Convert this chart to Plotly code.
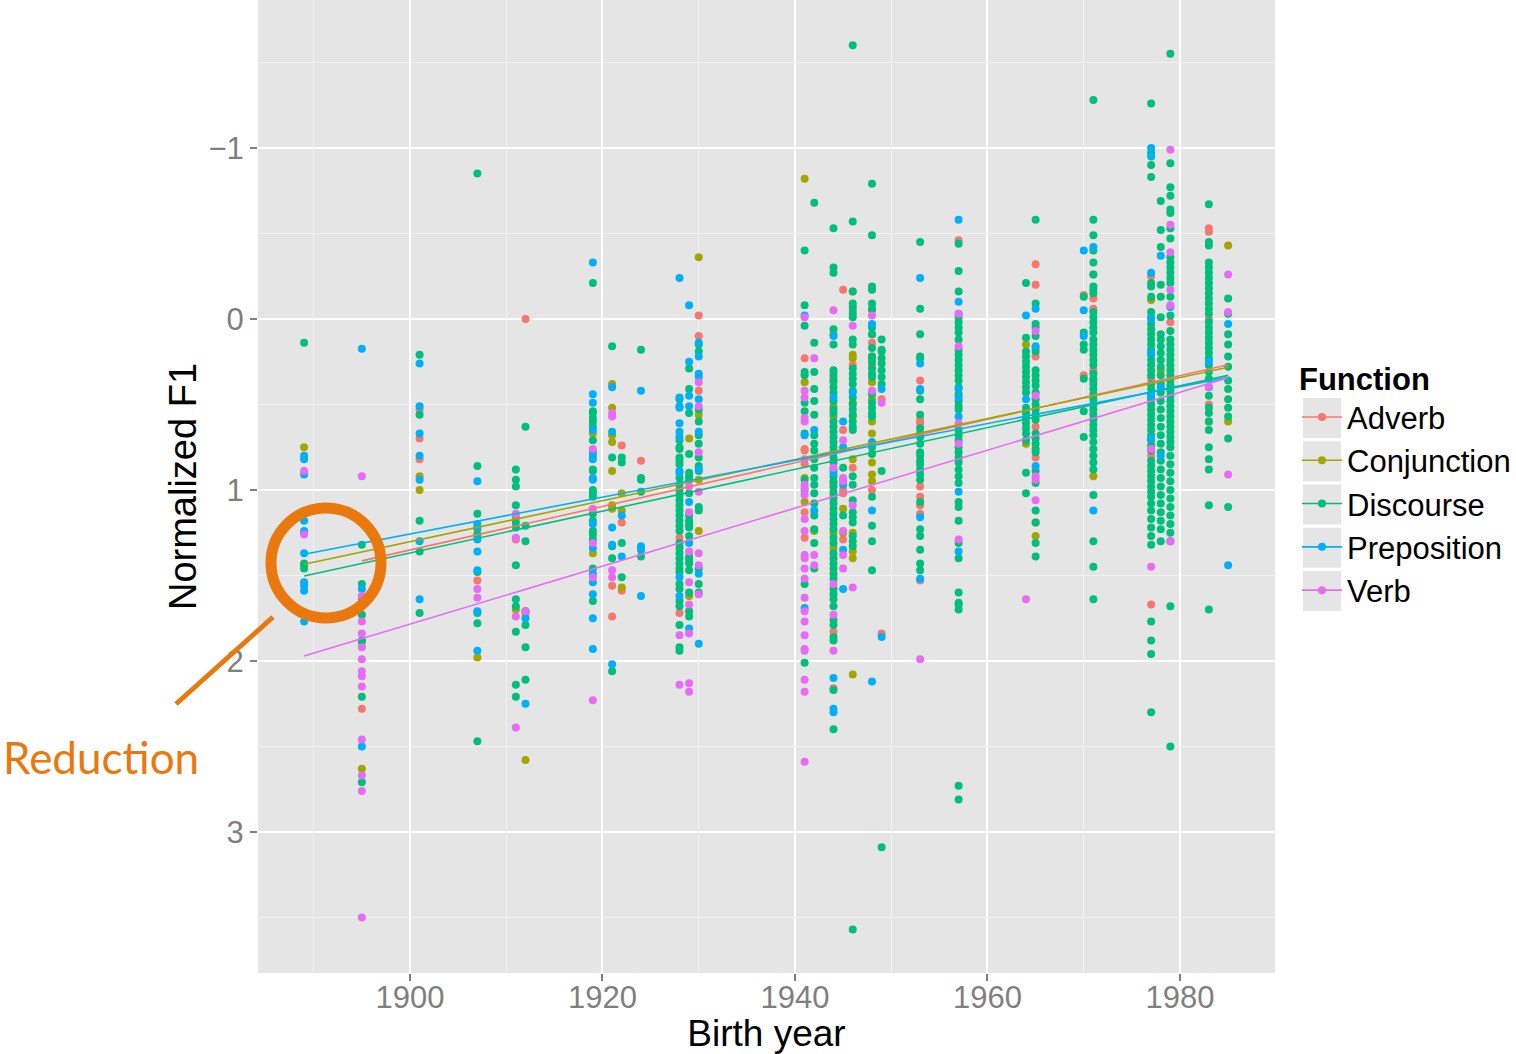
import plotly.graph_objects as go

# ---------------- data (birth year -> normalized F1 values) ----------------
functions = ["Adverb", "Conjunction", "Discourse", "Preposition", "Verb"]
colors = ["#F8766D", "#A3A500", "#00BF7D", "#00B0F6", "#E76BF3"]

adverb_pts = [
    (1895, [2.28]), (1901, [0.53, 0.70, 0.82]), (1907, [1.27, 1.53]), (1911, [1.29]),
    (1912, [0.00]), (1921, [1.56, 1.74]), (1922, [0.74, 1.19, 1.59]), (1924, [0.83]),
    (1928, [1.28, 1.72]), (1930, [-0.02, 0.10, 0.42]),
    (1941, [0.23, 0.76, 0.77, 0.85, 1.13, 1.28]), (1944, [0.96, 1.83, 2.16]),
    (1945, [-0.17, 0.65, 1.00, 1.02, 1.29]), (1946, [-0.16, 0.27, 0.87]),
    (1948, [0.14, 0.27, 1.00]), (1949, [0.47, 1.84]),
    (1953, [0.36, 0.59, 0.61, 0.98, 1.04, 1.09, 1.14, 1.53]), (1957, [-0.46]),
    (1965, [-0.32, -0.20, 0.17, 0.22, 0.63, 0.81, 1.19]), (1970, [-0.14, 0.33]),
    (1971, [-0.26, -0.12, -0.06, 0.30, 0.36]), (1977, [-0.25, 0.35, 0.80, 1.67]),
    (1979, [0.02]), (1983, [-0.53, -0.51, 0.00, 0.50]),
]

conjunction_pts = [
    (1889, [0.75, 1.44]), (1895, [2.63]), (1901, [0.92, 1.00]), (1907, [1.23, 1.98]),
    (1911, [1.16, 1.70]), (1912, [1.72, 2.58]), (1919, [0.67, 1.37]),
    (1921, [0.38, 0.52, 0.68, 0.72, 0.89, 1.09, 1.11]), (1922, [1.02, 1.12, 1.57]),
    (1929, [0.70, 1.62]), (1930, [-0.36, 0.56, 0.94, 1.24]),
    (1941, [-0.82, 0.37, 0.93, 1.07]), (1942, [1.24]),
    (1944, [0.09, 0.34, 0.37, 0.51, 0.57, 1.03, 1.25, 1.34]), (1945, [1.11, 1.25]),
    (1946, [-0.05, 0.21, 0.23, 0.49, 0.57, 0.82, 1.25, 1.36, 1.40, 2.08]),
    (1948, [-0.05, 0.09, 0.22, 0.23, 0.37, 0.47, 0.60, 0.67, 0.84, 0.91, 0.95]),
    (1964, [0.15, 0.73]), (1965, [1.27]), (1971, [0.92]), (1977, [-0.11]),
    (1978, [0.30]), (1983, [0.60]), (1985, [-0.43, 0.60]),
]

discourse_pts = [
    (1889, [0.14, 1.43, 1.46]),
    (1895, [1.32, 1.55, 1.73, 1.88, 1.89, 2.21, 2.71]),
    (1901, [0.21, 0.56, 1.18, 1.36, 1.72]),
    (1907, [-0.85, 0.86, 1.14, 1.26, 1.48, 1.72, 1.78, 2.47]),
    (1911, [0.88, 0.94, 0.98, 1.09, 1.19, 1.22, 1.44, 1.64, 1.68, 1.83, 2.14, 2.21]),
    (1912, [0.63, 1.21, 1.30, 1.71, 1.79, 1.92, 2.11]),
    (1919, [-0.21, 0.54, 0.55, 0.58, 0.60, 0.63, 0.71, 0.78, 0.88, 0.89, 1.00, 1.02,
            1.04, 1.14, 1.18, 1.24, 1.26, 1.29, 1.46, 1.65]),
    (1921, [0.16, 0.81, 1.33, 1.40, 2.06]),
    (1922, [0.81, 0.84, 1.31, 1.51]),
    (1924, [0.18, 0.93, 0.94, 1.01, 1.39]),
    (1928, [0.47, 0.71, 0.75, 0.76, 0.81, 0.83, 0.85, 0.93, 0.97, 1.00, 1.03, 1.06,
            1.09, 1.12, 1.15, 1.18, 1.21, 1.24, 1.31, 1.34, 1.37, 1.40, 1.43, 1.46,
            1.48, 1.55, 1.58, 1.65, 1.68, 1.79, 1.92, 1.94]),
    (1929, [0.29, 0.41, 0.55, 0.79, 0.90, 0.92, 0.94, 1.02, 1.15, 1.18, 1.20, 1.22,
            1.27, 1.39, 1.41, 1.43, 1.47, 1.60, 1.71, 1.74]),
    (1930, [0.15, 0.19, 0.53, 0.60, 0.68, 0.73, 0.81, 0.86, 0.89, 1.10, 1.12, 1.46,
            1.55, 1.60]),
    (1941, [-0.40, -0.08, 0.04, 0.31, 0.33, 0.49, 0.54, 0.67, 0.94, 1.55, 2.01]),
    (1942, [-0.68, 0.14, 0.31, 0.41, 0.48, 0.56, 0.68, 0.73, 0.77, 0.82, 0.87, 0.93,
            0.97, 1.02, 1.08, 1.15, 1.23, 1.31, 1.46]),
    (1944, [-0.53, -0.30, -0.27, 0.06, 0.15, 0.30, 0.32, 0.36, 0.40, 0.43, 0.48, 0.53,
            0.55, 0.60, 0.63, 0.66, 0.69, 0.72, 0.75, 0.78, 0.81, 0.84, 0.88, 0.92,
            0.95, 0.98, 1.01, 1.05, 1.08, 1.11, 1.14, 1.17, 1.20, 1.23, 1.28, 1.31,
            1.37, 1.40, 1.43, 1.46, 1.49, 1.52, 1.58, 1.61, 1.64, 1.68, 1.76, 1.79,
            1.86, 1.88, 2.17, 2.40]),
    (1945, [0.87, 1.15]),
    (1946, [-1.60, -0.57, -0.16, -0.09, -0.07, -0.03, -0.01, 0.12, 0.15, 0.29, 0.32,
            0.35, 0.38, 0.42, 0.46, 0.50, 0.53, 0.56, 0.60, 0.63, 0.65, 0.92, 0.97,
            1.06, 1.13, 1.16, 1.19, 1.27, 1.30, 1.33, 3.57]),
    (1948, [-0.79, -0.49, -0.19, -0.17, -0.09, -0.06, 0.05, 0.09, 0.17, 0.22, 0.25,
            0.29, 0.32, 0.34, 0.44, 0.49, 0.52, 0.55, 0.57, 0.75, 0.79, 1.04, 1.21,
            1.30, 1.47]),
    (1949, [0.12, 0.18, 0.19, 0.23, 0.26, 0.30, 0.34, 0.38, 0.89, 3.09]),
    (1953, [-0.45, -0.06, 0.09, 0.22, 0.23, 0.42, 0.47, 0.56, 0.64, 0.67, 0.69, 0.73,
            0.78, 0.80, 0.83, 0.85, 0.88, 0.91, 0.94, 1.07, 1.23, 1.27, 1.35, 1.43,
            1.47]),
    (1957, [-0.44, -0.28, -0.16, -0.01, 0.02, 0.05, 0.08, 0.12, 0.18, 0.21, 0.24,
            0.27, 0.30, 0.33, 0.36, 0.40, 0.44, 0.48, 0.51, 0.53, 0.65, 0.68, 0.71,
            0.75, 0.78, 0.81, 0.84, 0.88, 0.92, 0.96, 1.07, 1.10, 1.18, 1.31, 1.40,
            1.60, 1.66, 1.67, 1.70, 2.73, 2.81]),
    (1964, [-0.21, 0.11, 0.19, 0.22, 0.25, 0.28, 0.31, 0.34, 0.37, 0.40, 0.43, 0.52,
            0.55, 0.58, 0.61, 0.64, 0.67, 0.71, 0.90, 1.02]),
    (1965, [-0.58, -0.09, 0.03, 0.05, 0.10, 0.19, 0.30, 0.33, 0.36, 0.39, 0.43, 0.47,
            0.50, 0.53, 0.56, 0.59, 0.67, 0.70, 0.73, 0.76, 0.78, 0.89, 0.96, 1.12,
            1.19, 1.31, 1.39]),
    (1970, [-0.13, 0.08, 0.15, 0.18, 0.35, 0.54, 0.69]),
    (1971, [-1.28, -0.58, -0.49, -0.40, -0.33, -0.26, -0.19, -0.17, -0.15, -0.04,
            -0.01, 0.02, 0.05, 0.08, 0.12, 0.15, 0.18, 0.21, 0.24, 0.27, 0.32, 0.35,
            0.38, 0.41, 0.44, 0.47, 0.50, 0.53, 0.56, 0.59, 0.62, 0.65, 0.68, 0.72,
            0.76, 0.80, 0.84, 0.88, 1.03, 1.30, 1.45, 1.64]),
    (1977, [-1.26, -0.97, -0.90, -0.83, -0.21, -0.19, -0.13, -0.04, -0.01, 0.03,
            0.06, 0.09, 0.12, 0.15, 0.18, 0.21, 0.24, 0.27, 0.30, 0.33, 0.38, 0.41,
            0.44, 0.47, 0.50, 0.53, 0.56, 0.59, 0.62, 0.65, 0.68, 0.71, 0.74, 0.77,
            0.83, 0.86, 0.89, 0.92, 0.95, 0.98, 1.01, 1.04, 1.08, 1.12, 1.17, 1.22,
            1.27, 1.32, 1.77, 1.88, 1.96, 2.30]),
    (1978, [-0.69, -0.52, -0.42, -0.20, -0.13, -0.01, 0.09, 0.12, 0.16, 0.20, 0.24,
            0.28, 0.33, 0.38, 0.43, 0.48, 0.53, 0.58, 0.63, 0.68, 0.73, 0.78, 0.83,
            0.88, 0.93, 0.98, 1.03, 1.08, 1.13, 1.18, 1.23, 1.30]),
    (1979, [-1.55, -0.91, -0.77, -0.72, -0.64, -0.62, -0.53, -0.47, -0.36, -0.33,
            -0.30, -0.27, -0.24, -0.21, -0.13, -0.02, 0.07, 0.12, 0.15, 0.18, 0.21,
            0.24, 0.27, 0.30, 0.33, 0.36, 0.39, 0.42, 0.45, 0.48, 0.51, 0.54, 0.57,
            0.60, 0.63, 0.66, 0.69, 0.72, 0.75, 0.80, 0.85, 0.90, 0.95, 1.00, 1.05,
            1.10, 1.15, 1.20, 1.25, 1.30, 1.68, 2.50]),
    (1983, [-0.67, -0.45, -0.43, -0.33, -0.30, -0.27, -0.24, -0.21, -0.18, -0.15,
            -0.12, -0.09, -0.06, -0.03, 0.02, 0.05, 0.08, 0.11, 0.14, 0.17, 0.20,
            0.23, 0.27, 0.31, 0.35, 0.40, 0.45, 0.52, 0.55, 0.60, 0.65, 0.75, 0.82,
            0.88, 1.09, 1.70]),
    (1985, [-0.12, -0.03, 0.09, 0.15, 0.22, 0.28, 0.36, 0.41, 0.47, 0.52, 0.57,
            0.70, 1.10]),
]

preposition_pts = [
    (1889, [0.80, 0.82, 0.91, 1.18, 1.24, 1.25, 1.37, 1.54, 1.56, 1.59, 1.77]),
    (1895, [0.175, 1.58, 1.64, 2.50]),
    (1901, [0.26, 0.51, 0.67, 0.80, 0.94, 1.30, 1.64]),
    (1907, [0.95, 1.20, 1.22, 1.29, 1.36, 1.47, 1.71, 1.94]),
    (1912, [1.75, 2.25]),
    (1919, [-0.33, 0.44, 0.49, 0.65, 0.80, 0.82, 0.93, 0.94, 1.20, 1.34, 1.49, 1.54,
            1.61, 1.75, 1.93]),
    (1921, [0.40, 0.66, 1.22, 1.32, 2.02]),
    (1922, [1.15, 1.39]),
    (1924, [0.42, 1.33, 1.35, 1.62]),
    (1928, [-0.24, 0.46, 0.51, 0.52, 0.61, 0.66, 0.69, 0.89, 0.90, 1.51, 1.62]),
    (1929, [-0.08, 0.25, 0.45, 0.51, 1.07, 1.31, 1.81]),
    (1930, [0.14, 0.22, 0.32, 0.34, 0.47, 0.66, 0.88, 1.49, 1.90]),
    (1941, [-0.02, 0.68, 1.00, 1.69]),
    (1942, [0.65, 1.12]),
    (1944, [0.10, 0.46, 0.90, 2.10, 2.28, 2.30]),
    (1945, [0.60, 0.75, 0.94, 0.97, 1.35, 1.58]),
    (1946, [0.43]),
    (1948, [0.03, 0.72, 1.12, 2.12]),
    (1949, [0.41, 1.86]),
    (1953, [-0.24, 0.26, 0.41, 1.16, 1.52]),
    (1957, [-0.58, -0.10, -0.03, 0.41, 0.46, 0.57, 1.01, 1.36]),
    (1964, [-0.02, 0.47]),
    (1965, [-0.06, 0.16, 0.86]),
    (1970, [-0.40, -0.05, 0.10]),
    (1971, [-0.42, 1.12]),
    (1977, [-1.00, -0.95, -0.27, 0.00, 0.20, 0.45, 0.70]),
    (1978, [-0.37, 0.40, 0.80]),
    (1979, [-0.07]),
    (1983, [0.25]),
    (1985, [0.03, 1.44]),
]

verb_pts = [
    (1889, [0.89, 1.26]),
    (1895, [0.92, 1.62, 1.77, 1.84, 1.92, 1.99, 2.06, 2.09, 2.15, 2.46, 2.67, 2.76, 3.50]),
    (1907, [1.58, 1.63]),
    (1911, [1.14, 1.28, 1.74, 2.39]),
    (1912, [1.71]),
    (1919, [0.76, 1.11, 1.31, 1.51, 2.23]),
    (1921, [0.55, 0.57, 1.47, 1.51]),
    (1928, [1.85, 2.14]),
    (1929, [0.98, 1.13, 1.36, 1.54, 1.67, 1.84, 2.13, 2.18]),
    (1930, [0.37, 0.51, 0.78, 1.01, 1.37, 1.44, 1.61]),
    (1941, [-0.01, 0.42, 0.46, 0.58, 0.60, 0.82, 0.97, 0.99, 1.03, 1.17, 1.24, 1.38,
            1.40, 1.46, 1.52, 1.63, 1.71, 1.77, 1.85, 1.93, 1.94, 2.11, 2.18, 2.59]),
    (1942, [0.23, 1.38, 1.44]),
    (1944, [-0.05, 0.87, 1.55, 1.73, 1.94]),
    (1945, [0.71, 0.93, 0.95, 1.24, 1.38, 1.46]),
    (1946, [0.04, 1.09, 1.57]),
    (1948, [-0.02, 0.42]),
    (1949, [0.49]),
    (1953, [1.99]),
    (1957, [-0.03, 0.16, 0.61, 0.73, 1.29]),
    (1964, [1.64]),
    (1965, [0.07, 0.45, 0.92, 0.94, 1.06]),
    (1977, [0.76, 1.45]),
    (1979, [-0.99, -0.55, -0.39, -0.17, -0.08, 1.30]),
    (1983, [0.40]),
    (1985, [-0.26, -0.04, 0.91]),
]

# linear-fit lines (start/end year and fitted value) per function
fit_x0 = [1895, 1889, 1889, 1889, 1889]
fit_x1 = [1985, 1985, 1985, 1985, 1985]
fit_y0 = [1.415, 1.435, 1.503, 1.376, 1.971]
fit_y1 = [0.268, 0.283, 0.330, 0.343, 0.344]

x_ticks = [1900, 1920, 1940, 1960, 1980]
y_ticks = [-1, 0, 1, 2, 3]
y_ticklabels = ["\u22121", "0", "1", "2", "3"]

all_pts = [adverb_pts, conjunction_pts, discourse_pts, preposition_pts, verb_pts]

# ---------------- figure ----------------
W, H = 1516, 1054
ML, MR, MT, MB = 258, 241, 0, 81
PW, PH = W - ML - MR, H - MT - MB


def px(x):
    return (x - ML) / PW


def py(y):
    return (MT + PH - y) / PH


FONT = "Liberation Sans, Arial, Helvetica, sans-serif"
ORANGE = "#E9790E"

fig = go.Figure()

for name, col, pts in zip(functions, colors, all_pts):
    xs, ys = [], []
    for yr, vals in pts:
        for v in vals:
            xs.append(yr)
            ys.append(v)
    fig.add_trace(go.Scatter(x=xs, y=ys, mode="markers", name=name,
                             legendgroup=name, showlegend=False,
                             marker=dict(color=col, size=8, line=dict(width=0)),
                             hoverinfo="x+y"))

for i, (name, col) in enumerate(zip(functions, colors)):
    fig.add_trace(go.Scatter(x=[fit_x0[i], fit_x1[i]], y=[fit_y0[i], fit_y1[i]],
                             mode="lines", name=name, legendgroup=name,
                             showlegend=False, line=dict(color=col, width=1.6)))

for name, col in zip(functions, colors):
    fig.add_trace(go.Scatter(x=[None], y=[None], mode="lines+markers", name=name,
                             legendgroup=name, showlegend=True,
                             line=dict(color=col, width=1.6),
                             marker=dict(color=col, size=8)))

shapes = []
# legend key backgrounds
for k in range(5):
    c = 418 + k * 43.25
    shapes.append(dict(type="rect", xref="paper", yref="paper",
                       x0=px(1303), x1=px(1341), y0=py(c + 20), y1=py(c - 20),
                       fillcolor="#E5E5E5", line=dict(width=0), layer="below"))
# highlight circle and pointer line
shapes.append(dict(type="circle", xref="paper", yref="paper",
                   x0=px(326 - 55), x1=px(326 + 55), y0=py(563 + 55), y1=py(563 - 55),
                   line=dict(color=ORANGE, width=11), layer="above"))
shapes.append(dict(type="line", xref="paper", yref="paper",
                   x0=px(273), y0=py(617), x1=px(176), y1=py(704),
                   line=dict(color=ORANGE, width=5), layer="above"))

fig.update_layout(
    width=W, height=H,
    margin=dict(l=ML, r=MR, t=MT, b=MB, autoexpand=False),
    paper_bgcolor="white",
    plot_bgcolor="#E5E5E5",
    font=dict(family=FONT, color="black"),
    showlegend=True,
    legend=dict(
        x=px(1297), y=py(350), xanchor="left", yanchor="top",
        bgcolor="rgba(0,0,0,0)", borderwidth=0,
        font=dict(family=FONT, size=31, color="black"),
        title=dict(text="<b>Function</b>", font=dict(family=FONT, size=31, color="black")),
        itemwidth=40, tracegroupgap=0,
    ),
    shapes=shapes,
    annotations=[dict(text="Reduction", xref="paper", yref="paper",
                      x=px(101), y=py(757), xanchor="center", yanchor="middle",
                      showarrow=False,
                      font=dict(family="Lato, Open Sans, sans-serif", size=44, color=ORANGE))],
)

fig.update_xaxes(
    range=[1884.21, 1989.87],
    tickmode="array", tickvals=x_ticks,
    ticks="outside", ticklen=7, tickwidth=1.5, tickcolor="#7F7F7F",
    ticklabelstandoff=-10,
    tickfont=dict(family=FONT, size=31, color="#7F7F7F"),
    showgrid=True, gridcolor="white", gridwidth=2,
    minor=dict(dtick=10, tick0=1890, showgrid=True, gridcolor="#F2F2F2", gridwidth=1),
    zeroline=False, showline=False,
    title=dict(text="Birth year", font=dict(family=FONT, size=37, color="black"), standoff=12),
)
fig.update_yaxes(
    range=[3.825, -1.865],
    tickmode="array", tickvals=y_ticks, ticktext=y_ticklabels,
    ticks="outside", ticklen=7, tickwidth=1.5, tickcolor="#7F7F7F",
    tickfont=dict(family=FONT, size=31, color="#7F7F7F"),
    showgrid=True, gridcolor="white", gridwidth=2,
    minor=dict(dtick=0.5, tick0=-1.5, showgrid=True, gridcolor="#F2F2F2", gridwidth=1),
    zeroline=False, showline=False,
    title=dict(text="Normalized F1", font=dict(family=FONT, size=38, color="black"), standoff=0),
)

fig.write_html("out.html")
